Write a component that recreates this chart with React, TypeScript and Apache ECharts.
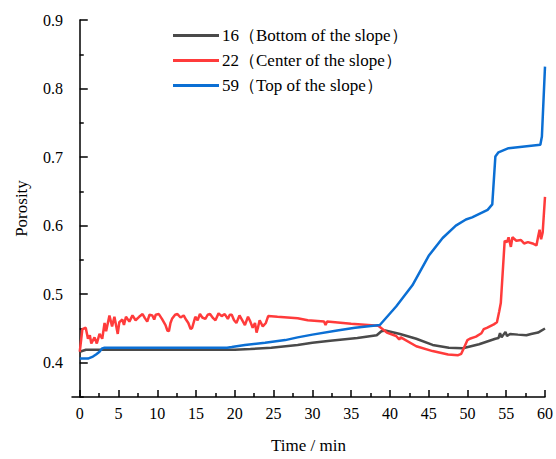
import React, { useEffect, useRef } from "react";
import * as echarts from "echarts";

const seriesNames = [
  "16（Bottom of the slope）",
  "22（Center of the slope）",
  "59（Top of the slope）",
];
const seriesColors = ["#4a4a4a", "#ff3b3b", "#0b6fd4"];

const xTickValues = [0, 5, 10, 15, 20, 25, 30, 35, 40, 45, 50, 55, 60];
const xMinorTicks = [2.5, 7.5, 12.5, 17.5, 22.5, 27.5, 32.5, 37.5, 42.5, 47.5, 52.5, 57.5];
const yTickValues = [0.4, 0.5, 0.6, 0.7, 0.8, 0.9];
const yMinorTicks = [0.35, 0.45, 0.55, 0.65, 0.75, 0.85];

const bottomTime = [0, 0.8, 2, 5, 10, 15, 20, 22, 24.7, 28.1, 30, 32.3, 35.8, 38.3, 38.9, 39.4, 41.3, 43.4, 45.5, 47.6, 49.4, 51.5, 53.6, 54.0, 54.2, 54.4, 54.9, 55.1, 55.5, 56.5, 57.6, 58.2, 59.1, 60];
const bottomPorosity = [0.416, 0.419, 0.419, 0.419, 0.419, 0.419, 0.419, 0.42, 0.422, 0.426, 0.429, 0.432, 0.436, 0.44, 0.446, 0.447, 0.442, 0.435, 0.426, 0.422, 0.421, 0.427, 0.435, 0.436, 0.443, 0.437, 0.445, 0.439, 0.442, 0.441, 0.44, 0.442, 0.444, 0.45];

const centerTime = [0, 0.34, 0.77, 1.06, 1.3, 1.49, 1.9, 2.2, 2.55, 2.9, 3.2, 3.4, 3.83, 4.17, 4.47, 4.9, 5.1, 5.5, 5.7, 5.96, 6.4, 6.8, 7.2, 7.66, 8.1, 8.4, 8.7, 9.0, 9.36, 9.6, 9.8, 10.2, 10.6, 11.06, 11.3, 11.5, 11.7, 11.9, 12.3, 12.6, 13.0, 13.4, 13.7, 14.0, 14.3, 14.5, 14.9, 15.2, 15.5, 15.8, 16.2, 16.5, 16.8, 17.2, 17.5, 17.9, 18.3, 18.7, 19.1, 19.35, 19.6, 19.9, 20.2, 20.6, 21.0, 21.3, 21.7, 22.0, 22.3, 22.6, 22.8, 23.0, 23.2, 23.6, 24.0, 24.3, 25.5, 28.1, 29.4, 31.5, 31.7, 31.9, 35.0, 38.5, 39.6, 40.8, 41.2, 41.4, 43.4, 45.5, 47.5, 48.8, 49.2, 49.6, 50.0, 50.3, 51.1, 51.8, 52.1, 52.5, 53.4, 53.8, 54.1, 54.3, 54.8, 55.1, 55.3, 55.6, 55.8, 56.3, 56.9, 57.3, 57.8, 58.4, 58.9, 59.1, 59.3, 59.5, 59.7, 60.0];
const centerPorosity = [0.416, 0.449, 0.451, 0.435, 0.44, 0.428, 0.437, 0.428, 0.442, 0.435, 0.458, 0.446, 0.469, 0.453, 0.467, 0.442, 0.459, 0.463, 0.455, 0.467, 0.46, 0.469, 0.462, 0.467, 0.471, 0.465, 0.46, 0.47, 0.469, 0.463, 0.47, 0.471, 0.464, 0.455, 0.447, 0.446, 0.458, 0.464, 0.47, 0.471, 0.466, 0.469, 0.463, 0.458, 0.449, 0.451, 0.467, 0.462, 0.471, 0.466, 0.464, 0.47, 0.471, 0.465, 0.462, 0.472, 0.468, 0.471, 0.464, 0.47, 0.47, 0.462, 0.458, 0.469, 0.461, 0.455, 0.467, 0.46, 0.451, 0.458, 0.444, 0.452, 0.462, 0.453, 0.458, 0.468, 0.467, 0.465, 0.462, 0.46, 0.455, 0.46, 0.457, 0.454, 0.444, 0.439, 0.434, 0.437, 0.424, 0.417, 0.412, 0.411, 0.413, 0.423, 0.433, 0.435, 0.438, 0.443, 0.449, 0.451, 0.456, 0.459, 0.475, 0.487, 0.578, 0.576, 0.583, 0.569, 0.583, 0.578, 0.579, 0.574, 0.576, 0.574, 0.571, 0.583, 0.594, 0.58, 0.59, 0.642];

const topTime = [0, 1.06, 1.7, 2.1, 2.55, 2.9, 3.2, 19.0, 19.6, 21.3, 23.9, 26.5, 28.1, 30, 33.2, 35.5, 38.7, 40.8, 42.9, 45.0, 46.8, 48.5, 49.8, 50.6, 52.6, 53.2, 53.6, 54.0, 55.3, 59.4, 59.6, 60];
const topPorosity = [0.406, 0.406, 0.409, 0.412, 0.416, 0.421, 0.422, 0.422, 0.423, 0.426, 0.429, 0.433, 0.437, 0.441, 0.447, 0.451, 0.455, 0.482, 0.513, 0.556, 0.582, 0.6, 0.609, 0.612, 0.623, 0.631, 0.701, 0.707, 0.713, 0.718, 0.73, 0.832];

const FONT = "Liberation Serif";

function pairs(t: number[], v: number[]) {
  return t.map((x, i) => [x, v[i]]);
}

const richLabel = { s: { fontFamily: FONT, fontSize: 16, fontWeight: "normal", color: "#000" } };
const richName = { s: { fontFamily: FONT, fontSize: 17, fontWeight: "normal", color: "#000" } };

export default function App() {
  const ref = useRef<HTMLDivElement>(null);
  useEffect(() => {
    if (!ref.current) return;
    const chart = echarts.init(ref.current, undefined, { renderer: "svg" });
    const datasets = [
      pairs(bottomTime, bottomPorosity),
      pairs(centerTime, centerPorosity),
      pairs(topTime, topPorosity),
    ];
    const axisLine = { show: true, lineStyle: { color: "#000", width: 1.5 } };
    chart.setOption({
      animation: false,
      backgroundColor: "#fff",
      textStyle: { fontFamily: FONT, fontWeight: "normal" },
      grid: { left: 72, right: 6, top: 20, bottom: 53, containLabel: false },
      legend: {
        orient: "vertical",
        left: 168,
        top: 22,
        itemWidth: 46,
        itemHeight: 3,
        itemGap: 8,
        icon: "rect",
        data: seriesNames,
        textStyle: { fontFamily: FONT, fontSize: 17, color: "#000", padding: [0, 0, 0, -2] },
      },
      xAxis: [
        {
          type: "value",
          min: -1,
          max: 60,
          name: "{s|Time / min}",
          nameLocation: "middle",
          nameGap: 40,
          nameTextStyle: { rich: richName },
          axisLine,
          splitLine: { show: false },
          axisTick: { show: true, inside: true, length: 7, customValues: xTickValues, lineStyle: { color: "#000", width: 1.5 } },
          axisLabel: { customValues: xTickValues, margin: 8, formatter: (v: number) => "{s|" + v + "}", rich: richLabel },
        },
        {
          type: "value",
          min: -1,
          max: 60,
          position: "bottom",
          axisLine: { show: false },
          splitLine: { show: false },
          axisTick: { show: true, inside: true, length: 4, customValues: xMinorTicks, lineStyle: { color: "#000", width: 1.5 } },
          axisLabel: { show: false },
        },
      ],
      yAxis: [
        {
          type: "value",
          min: 0.35,
          max: 0.9,
          name: "{s|Porosity}",
          nameLocation: "middle",
          nameGap: 42,
          nameTextStyle: { rich: richName },
          axisLine,
          splitLine: { show: false },
          axisTick: { show: true, inside: true, length: 8, customValues: yTickValues, lineStyle: { color: "#000", width: 1.5 } },
          axisLabel: { customValues: yTickValues, margin: 9, formatter: (v: number) => "{s|" + v.toFixed(1) + "}", rich: richLabel },
        },
        {
          type: "value",
          min: 0.35,
          max: 0.9,
          position: "left",
          axisLine: { show: false },
          splitLine: { show: false },
          axisTick: { show: true, inside: true, length: 4, customValues: yMinorTicks, lineStyle: { color: "#000", width: 1.5 } },
          axisLabel: { show: false },
        },
      ],
      series: seriesNames.map((name, i) => ({
        name,
        type: "line",
        xAxisIndex: 0,
        yAxisIndex: 0,
        data: datasets[i],
        showSymbol: false,
        symbol: "none",
        lineStyle: { color: seriesColors[i], width: 2.5 },
        itemStyle: { color: seriesColors[i] },
        z: 2 + i,
      })),
    });
    return () => chart.dispose();
  }, []);
  return <div ref={ref} style={{ width: 556, height: 459, position: "absolute", left: 0, top: 0 }} />;
}
